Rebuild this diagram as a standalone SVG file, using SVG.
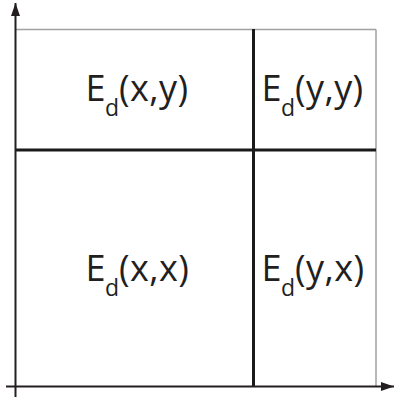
<svg xmlns="http://www.w3.org/2000/svg" width="396" height="397" viewBox="0 0 396 397">
<style>
.g{stroke:#a0a0a0;stroke-width:1.5;fill:none}
.b{stroke:#1a1a1a;stroke-width:3;fill:none}
.ax{stroke:#231f20;stroke-width:2;fill:none}
.t{font-family:"Open Sans","Liberation Sans",sans-serif;font-size:36px;fill:#231f20;letter-spacing:0.4px}
.s{font-size:23px;letter-spacing:0}
</style>
<defs>
<marker id="ah" markerWidth="14" markerHeight="10" refX="13" refY="5" orient="auto" markerUnits="userSpaceOnUse">
<path d="M0,0.5 L13,5 L0,9.5 Z" fill="#231f20"/>
</marker>
</defs>
<g id="frame">
<line class="g" x1="16" y1="29.5" x2="376" y2="29.5"/>
<line class="g" x1="376" y1="29.5" x2="376" y2="386"/>
</g>
<g id="connectors">
<line class="b" x1="253.5" y1="29" x2="253.5" y2="386"/>
<line class="b" x1="16" y1="150" x2="376" y2="150"/>
<line class="ax" x1="15.5" y1="397" x2="15.5" y2="3" marker-end="url(#ah)"/>
<line class="ax" x1="6" y1="386.5" x2="394" y2="386.5" marker-end="url(#ah)"/>
</g>
<g id="n1"><text class="t" x="85.5" y="101">E<tspan class="s" dx="-1" dy="15">d</tspan><tspan dy="-15">(x,y)</tspan></text></g>
<g id="n2"><text class="t" x="261.5" y="101">E<tspan class="s" dx="-1" dy="15">d</tspan><tspan dy="-15">(y,y)</tspan></text></g>
<g id="n3"><text class="t" x="85.5" y="280.5">E<tspan class="s" dx="-1" dy="15">d</tspan><tspan dy="-15">(x,x)</tspan></text></g>
<g id="n4"><text class="t" x="261.5" y="280.5">E<tspan class="s" dx="-1" dy="15">d</tspan><tspan dy="-15">(y,x)</tspan></text></g>
</svg>
